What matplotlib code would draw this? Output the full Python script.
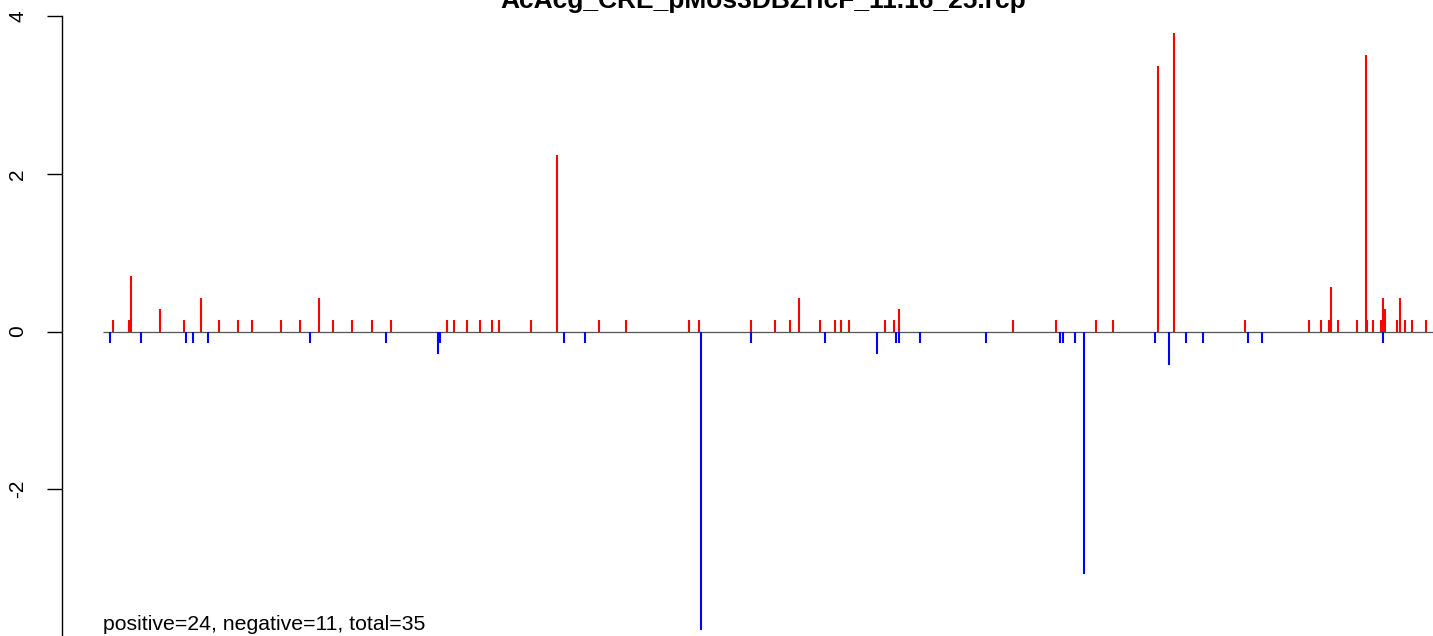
import matplotlib
matplotlib.use("Agg")
import matplotlib.pyplot as plt

plt.rcParams['font.family'] = ['Liberation Sans', 'DejaVu Sans']

title = "AcAcg_CRE_pMos3DBZrlcF_11.16_25.rcp"
note = "positive=24, negative=11, total=35"

# position along the sequence and score of each hit
pos_up = [13, 29, 31, 60, 84, 101, 119, 138, 152, 181, 200, 219, 233, 252,
          272, 291, 347, 354, 367, 380, 392, 399, 431, 457, 499, 526,
          589, 599, 651, 675, 690, 699, 720, 735, 741, 749, 785, 794, 799,
          913, 956, 996, 1013, 1058, 1074, 1145, 1209, 1221, 1229, 1231,
          1238, 1257, 1266, 1267, 1273, 1281, 1283, 1285, 1297, 1300, 1305,
          1312, 1326]
val_up = [0.14, 0.14, 0.70, 0.28, 0.14, 0.42, 0.14, 0.14, 0.14, 0.14, 0.14,
          0.42, 0.14, 0.14,
          0.14, 0.14, 0.14, 0.14, 0.14, 0.14, 0.14, 0.14, 0.14, 2.24, 0.14, 0.14,
          0.14, 0.14, 0.14, 0.14, 0.14, 0.42, 0.14, 0.14, 0.14, 0.14, 0.14, 0.14,
          0.28,
          0.14, 0.14, 0.14, 0.14, 3.36, 3.78, 0.14, 0.14, 0.14, 0.14, 0.56,
          0.14, 0.14, 3.50, 0.14, 0.14, 0.14, 0.42, 0.28, 0.14, 0.42, 0.14,
          0.14, 0.14]

pos_down = [10, 41, 86, 93, 108, 210, 286, 338, 340, 464, 485, 601, 651,
            725, 777, 796, 799, 820, 886, 960, 963, 975, 984, 1055, 1069,
            1086, 1103, 1148, 1162, 1283]
val_down = [-0.14, -0.14, -0.14, -0.14, -0.14, -0.14, -0.14, -0.28, -0.14,
            -0.14, -0.14, -3.78, -0.14, -0.14, -0.28, -0.14, -0.14, -0.14,
            -0.14, -0.14, -0.14, -0.14, -3.08, -0.14, -0.42, -0.14, -0.14,
            -0.14, -0.14, -0.14]

W, H = 1433, 636
fig = plt.figure(figsize=(W / 100, H / 100), dpi=100)
ax = fig.add_axes([62 / W, (H - 647) / H, (W - 62) / W, 631 / H])

ax.hlines(0, 3, 1333, color='#555555', lw=0.9)
ax.vlines(pos_up, 0, val_up, color='#ff0000', lw=1.5)
ax.vlines(pos_down, 0, val_down, color='#0000ff', lw=1.5)

ax.set_xlim(-38, 1333)
ax.set_ylim(-4, 4)
ax.set_yticks([-4, -2, 0, 2, 4])
ax.set_yticklabels(['-4', '-2', '0', '2', '4'], rotation=90, va='center')
ax.tick_params(axis='y', length=11, width=1, labelsize=15, pad=14)
ax.set_xticks([])
for s in ['top', 'right', 'bottom']:
    ax.spines[s].set_visible(False)
ax.spines['left'].set_linewidth(1)

fig.text(763 / W, 1 - 8 / H, title, ha='center', va='baseline',
         fontsize=19, fontweight='bold')
ax.text(3, -3.78, note, fontsize=15.3, va='baseline', ha='left')

fig.savefig('out.png', dpi=100)
